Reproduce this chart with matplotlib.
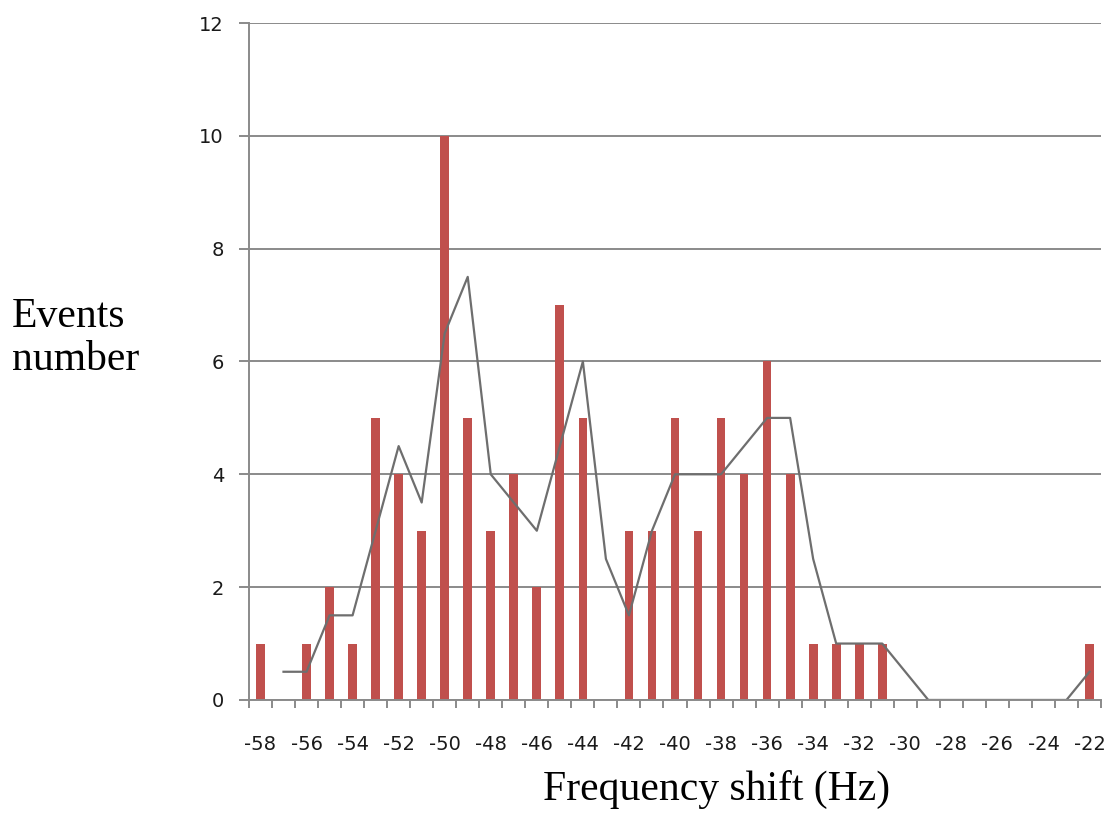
import matplotlib.pyplot as plt
import numpy as np

# frequency shift bins (Hz) and event counts
shifts = list(range(-58, -21))
events = [1, 0, 1, 2, 1, 5, 4, 3, 10, 5, 3, 4, 2, 7, 5, 0, 3, 3, 5, 3,
          5, 4, 6, 4, 1, 1, 1, 1, 0, 0, 0, 0, 0, 0, 0, 0, 1]

# 2-point moving average trend line, starting at -57
trend_shifts = list(range(-57, -21))
trend = [0.5, 0.5, 1.5, 1.5, 3, 4.5, 3.5, 6.5, 7.5, 4, 3.5, 3, 4.5, 6, 2.5,
         1.5, 3, 4, 4, 4, 4.5, 5, 5, 2.5, 1, 1, 1, 0.5, 0, 0, 0, 0, 0, 0, 0, 0.5]

tick_labels = [str(s) for s in shifts[::2]]

bar_color = '#C0504D'
grid_color = '#8A8A8A'
line_color = '#6E6E6E'
label_color = '#1A1A1A'

fig = plt.figure(figsize=(11.06, 8.16), dpi=100)
ax = fig.add_axes([0.2251, 0.1422, 0.7704, 0.8296])

ax.bar(shifts, events, width=0.38, color=bar_color, zorder=3)
ax.plot(trend_shifts, trend, color=line_color, linewidth=1.6, zorder=4)

ax.set_xlim(-58.5, -21.5)
ax.set_ylim(0, 12)

# horizontal gridlines, stretched a little past the left axis like tick marks
ax.set_yticks(np.arange(0, 13, 2))
ax.yaxis.grid(True, color=grid_color, linewidth=1.4, zorder=0)
ax.tick_params(axis='y', length=7, width=1.4, color=grid_color,
               labelsize=14, labelcolor=label_color, pad=11)

# category boundaries get the tick marks, every other centre gets a label
ax.set_xticks(np.arange(-58.5, -21.4, 1.0))
ax.set_xticklabels([])
ax.set_xticks(shifts[::2], minor=True)
ax.set_xticklabels(tick_labels, minor=True)
ax.tick_params(axis='x', which='major', length=6, width=1.4, color=grid_color)
ax.tick_params(axis='x', which='minor', length=0, labelsize=14,
               labelcolor=label_color, pad=25)

for side in ['top', 'right']:
    ax.spines[side].set_visible(False)
for side in ['left', 'bottom']:
    ax.spines[side].set_color(grid_color)
    ax.spines[side].set_linewidth(1.4)
ax.spines['left'].set_zorder(5)
ax.spines['bottom'].set_zorder(5)

serif = 'Liberation Serif'
fig.text(0.011, 0.585, 'Events\nnumber', fontsize=30, family=serif,
         ha='left', va='center', linespacing=1.15)
fig.text(0.648, 0.008, 'Frequency shift (Hz)', fontsize=30, family=serif,
         ha='center', va='bottom')

fig.savefig('out.png', dpi=100)
